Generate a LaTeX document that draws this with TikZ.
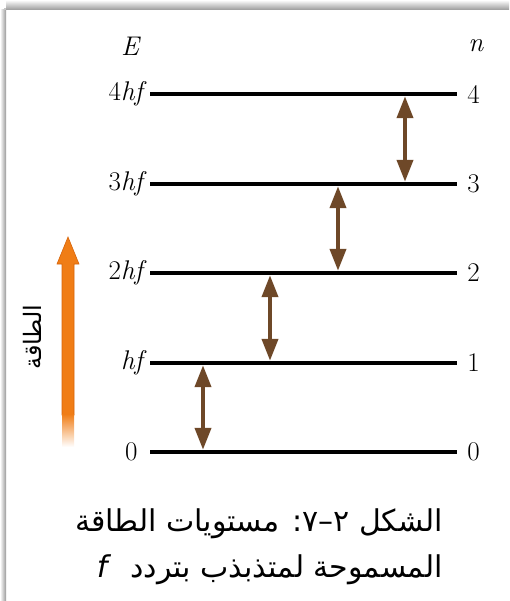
\documentclass[tikz,border=0pt]{standalone}
\usepackage{fontspec}
\usetikzlibrary{arrows.meta}
\TeXXeTstate=1
\newfontfamily\arabicfont[Script=Arabic]{DejaVu Sans}
\definecolor{arrbrown}{RGB}{110,72,40}
\definecolor{enorange}{RGB}{240,125,22}
\definecolor{enorangedk}{RGB}{215,100,10}
\tikzset{
  levelline/.style={fill=black, inner sep=0pt, minimum width=307pt, minimum height=4pt},
  lbl/.style={inner sep=0pt, font=\fontsize{27}{30}\selectfont},
  darr/.style={draw=arrbrown, line width=4pt, {Triangle[width=16pt,length=22pt]}-{Triangle[width=16pt,length=22pt]}, arrbrown},
  captxt/.style={inner sep=0pt, font=\arabicfont\fontsize{30}{34}\selectfont},
}
\begin{document}
\begin{tikzpicture}[x=1pt,y=-1pt]
\useasboundingbox (0,0) rectangle (509,601);
% frame shadow
\shade[left color=white, right color=black!40] (0,10) rectangle (6,601);
\shade[top color=white, bottom color=black!40] (6,0) rectangle (509,10);
\fill[black!22] (4,8) rectangle (6,10);
% levels
\node[levelline] (lev4) at (303.5,94) {};
\node[levelline] (lev3) at (303.5,184) {};
\node[levelline] (lev2) at (303.5,273) {};
\node[levelline] (lev1) at (303.5,363) {};
\node[levelline] (lev0) at (303.5,452) {};
% headers
\node[lbl] (E) at (131,46) {\textit{E}};
\node[lbl] (n) at (476,46) {\textit{n}};
% left labels
\node[lbl, anchor=east] (e4) at ([xshift=-3pt]lev4.west) {4\textit{hf}};
\node[lbl, anchor=east] (e3) at ([xshift=-3pt]lev3.west) {3\textit{hf}};
\node[lbl, anchor=east] (e2) at ([xshift=-3pt]lev2.west) {2\textit{hf}};
\node[lbl, anchor=east] (e1) at ([xshift=-3pt]lev1.west) {\textit{hf}};
\node[lbl, anchor=east] (e0) at ([xshift=-12pt]lev0.west) {0};
% right labels
\node[lbl, anchor=west] (n4) at ([xshift=10pt]lev4.east) {4};
\node[lbl, anchor=west] (n3) at ([xshift=10pt]lev3.east) {3};
\node[lbl, anchor=west] (n2) at ([xshift=10pt]lev2.east) {2};
\node[lbl, anchor=west] (n1) at ([xshift=10pt]lev1.east) {1};
\node[lbl, anchor=west] (n0) at ([xshift=10pt]lev0.east) {0};
% transition arrows
\draw[darr] (lev4.south -| 405,0) -- (lev3.north -| 405,0);
\draw[darr] (lev3.south -| 338,0) -- (lev2.north -| 338,0);
\draw[darr] (lev2.south -| 270,0) -- (lev1.north -| 270,0);
\draw[darr] (lev1.south -| 203,0) -- (lev0.north -| 203,0);
% energy arrow
\coordinate (otip) at (68,237);
\coordinate (obase) at (68,447);
\fill[enorange, draw=enorangedk, line width=0.6pt] (otip) -- ++(11,27) -- ++(-5,0) -- ++(0,151) -- ++(-12,0) -- ++(0,-151) -- ++(-5,0) -- cycle;
\shade[top color=enorange, bottom color=white] ([xshift=-6pt,yshift=33pt]obase) rectangle ([xshift=6pt]obase);
\node[captxt, font=\arabicfont\fontsize{24}{28}\selectfont, rotate=90] (energy) at (32,337) {الطاقة};
% caption
\node[captxt, anchor=base east] (cap1) at (443,531) {\beginR الشكل \beginL ٢–٧:\endL{} مستويات الطاقة\endR};
\node[captxt, anchor=base east] (cap2) at (443,577) {\beginR المسموحة لمتذبذب بتردد \ \beginL\textit{f}\endL\endR};
\end{tikzpicture}
\end{document}
